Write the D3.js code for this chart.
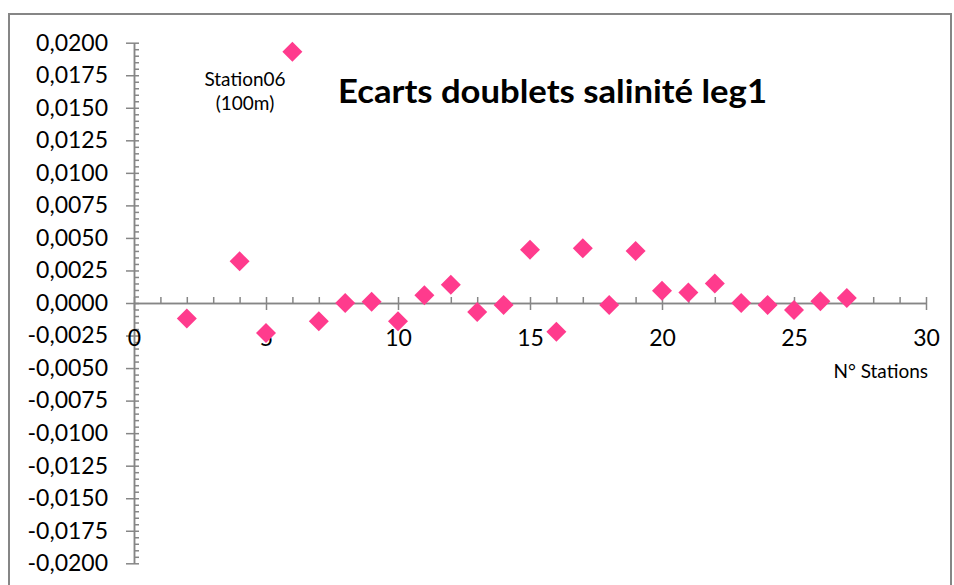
<!DOCTYPE html>
<html>
<head>
<meta charset="utf-8">
<script src="https://cdn.jsdelivr.net/npm/d3@7"></script>
<style>
  body { margin: 0; background: #fff; }
  svg { display: block; }
  text { font-family: Lato, "Open Sans", sans-serif; fill: #000; }
  .axis path, .axis line { stroke: #868686; stroke-width: 1.5; }
</style>
</head>
<body>
<svg width="954" height="585"></svg>
<script>
// stations and salinity doublet differences
const stations = [2, 4, 5, 6, 7, 8, 9, 10, 11, 12, 13, 14, 15, 16, 17, 18, 19, 20, 21, 22, 23, 24, 25, 26, 27];
const ecarts = [-0.0012, 0.0032, -0.0023, 0.0193, -0.0014, 0.0000, 0.0001, -0.0014, 0.0006, 0.0014, -0.0007, -0.00015,
  0.0041, -0.0022, 0.0042, -0.00015, 0.0040, 0.00095, 0.0008, 0.0015, 0.0000, -0.00015, -0.00054, 0.00013, 0.00038];

const yTicks = d3.range(-0.02, 0.02001, 0.0025);
const yMinor = d3.range(-0.02, 0.02001, 0.0005);
const xTicks = [0, 5, 10, 15, 20, 25, 30];
const xMinor = d3.range(0, 31, 1);

const svg = d3.select("svg");

// chart border
svg.append("rect")
    .attr("x", 9).attr("y", 14)
    .attr("width", 942).attr("height", 620)
    .attr("fill", "#fff")
    .attr("stroke", "#868686").attr("stroke-width", 2);

const x = d3.scaleLinear().domain([0, 30]).range([134, 926]);
const y = d3.scaleLinear().domain([-0.02, 0.02]).range([563.3, 42.7]);

const fr = d3.formatLocale({decimal: ",", thousands: " ", grouping: [3], currency: ["", "€"], minus: "-"});
const fmt = fr.format(".4f");

// y axis: major ticks to the left with labels, all ticks to the right
svg.append("g").attr("class", "axis")
    .attr("transform", `translate(${x(0)},0)`)
    .call(d3.axisRight(y).tickValues(yMinor).tickSize(5).tickSizeOuter(0).tickFormat(""));

svg.append("g").attr("class", "axis")
    .attr("transform", `translate(${x(0)},0)`)
    .call(d3.axisLeft(y).tickValues(yTicks).tickSize(8).tickSizeOuter(0).tickPadding(18).tickFormat(d => fmt(Math.abs(d) < 1e-9 ? 0 : d)))
    .call(g => g.selectAll("text").attr("font-size", 23).attr("font-family", "Lato"));

// x axis crossing at zero
svg.append("g").attr("class", "axis")
    .attr("transform", `translate(0,${y(0)})`)
    .call(d3.axisTop(x).tickValues(xMinor).tickSize(6).tickSizeOuter(0).tickFormat(""));

svg.append("g").attr("class", "axis")
    .attr("transform", `translate(0,${y(0)})`)
    .call(d3.axisBottom(x).tickValues(xTicks).tickSize(7).tickSizeOuter(0).tickPadding(20).tickFormat(d3.format("d")))
    .call(g => g.selectAll("text").attr("font-size", 23).attr("font-family", "Lato"));

svg.selectAll(".axis .domain").attr("stroke", "#868686");

// points
const diamond = "M0,-10L10,0L0,10L-10,0Z";
svg.append("g").selectAll("path")
  .data(stations.map((s, i) => ({s, v: ecarts[i]})))
  .join("path")
    .attr("d", diamond)
    .attr("transform", d => `translate(${x(d.s)},${y(d.v)})`)
    .attr("fill", "#ff3b8d");

// title
svg.append("text")
    .attr("x", 338).attr("y", 103)
    .attr("font-size", 32).attr("font-weight", "bold")
    .attr("textLength", 429).attr("lengthAdjust", "spacingAndGlyphs")
    .text("Ecarts doublets salinité leg1");

// annotation
const ann = svg.append("text").attr("font-size", 19).attr("text-anchor", "middle");
ann.append("tspan").attr("x", 245).attr("y", 86).text("Station06");
ann.append("tspan").attr("x", 245).attr("y", 110).text("(100m)");

// x axis title
svg.append("text")
    .attr("x", 928).attr("y", 378)
    .attr("text-anchor", "end")
    .attr("font-size", 19)
    .text("N° Stations");
</script>
</body>
</html>
